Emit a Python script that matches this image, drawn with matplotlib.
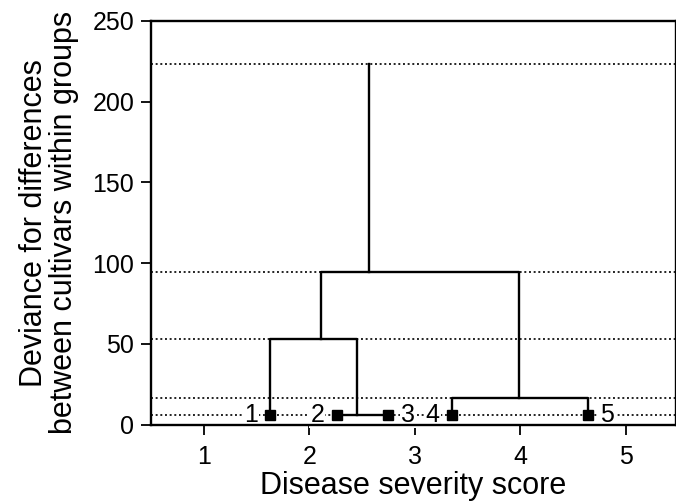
import matplotlib
matplotlib.use("Agg")
import matplotlib.pyplot as plt

# leaf groups (disease severity score groups) and their mean scores
group_labels = ['1', '2', '3', '4', '5']
group_scores = [1.63, 2.26, 2.75, 3.35, 4.64]
label_side = ['left', 'left', 'right', 'left', 'right']
leaf_deviance = 6.0

# merges: (child a, child b, deviance, x of new node)
merge_a = [1, 3, 0, 7]
merge_b = [2, 4, 5, 6]
merge_dev = [6.0, 16.3, 52.9, 94.3]
merge_x = [2.455, 3.99, 2.11, 2.57]
total_deviance = 223.4

plt.rcParams['font.family'] = ['Liberation Sans', 'DejaVu Sans']

fig = plt.figure(figsize=(6.76, 5.01), dpi=100)
ax = fig.add_axes([151 / 676, 76.5 / 501, 524.5 / 676, 403.5 / 501])

# dotted reference lines at each merge level
for h in merge_dev + [total_deviance]:
    ax.axhline(h, color='#222222', linestyle=(0, (1, 1.4)), linewidth=1.4, zorder=1)

node_x = list(group_scores)
node_y = [leaf_deviance] * len(group_scores)
for a, b, h, nx in zip(merge_a, merge_b, merge_dev, merge_x):
    ax.plot([node_x[a], node_x[a], node_x[b], node_x[b]],
            [node_y[a], h, h, node_y[b]], color='black', linewidth=1.7, zorder=2)
    node_x.append(nx)
    node_y.append(h)

# stem from the last merge to the total deviance
ax.plot([node_x[-1], node_x[-1]], [node_y[-1], total_deviance],
        color='black', linewidth=1.7, zorder=2)

ax.plot(group_scores, [leaf_deviance] * len(group_scores), linestyle='none',
        marker='s', markersize=6.5, color='black', zorder=3)

for lab, xs, side in zip(group_labels, group_scores, label_side):
    off = -9 if side == 'left' else 9
    ax.annotate(lab, (xs, leaf_deviance), xytext=(off, 0), textcoords='offset points',
                ha='right' if side == 'left' else 'left', va='center',
                fontsize=18, zorder=4,
                bbox=dict(boxstyle='square,pad=0.05', fc='white', ec='none'))

ax.set_xlim(0.5, 5.47)
ax.set_ylim(0, 250)
ax.set_xticks([1, 2, 3, 4, 5])
ax.set_yticks([0, 50, 100, 150, 200, 250])
ax.tick_params(axis='both', direction='out', length=7, width=1.3, labelsize=18, pad=5)
ax.tick_params(axis='x', pad=8)
for sp in ax.spines.values():
    sp.set_linewidth(1.7)
    sp.set_zorder(6)

ax.set_xlabel('Disease severity score', fontsize=22, labelpad=1)
ax.set_ylabel('Deviance for differences\nbetween cultivars within groups', fontsize=22,
              labelpad=10, linespacing=1.0)

fig.savefig('out.png', dpi=100)
